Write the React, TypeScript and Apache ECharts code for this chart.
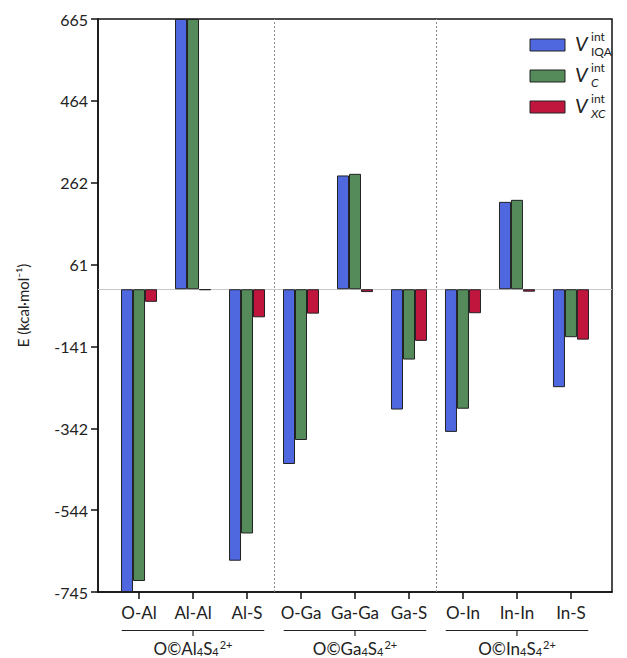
import React, { useEffect, useRef } from 'react';
import * as echarts from 'echarts';

const categories = ['O-Al', 'Al-Al', 'Al-S', 'O-Ga', 'Ga-Ga', 'Ga-S', 'O-In', 'In-In', 'In-S'];
const vIQA = [-745, 665, -668, -430, 280, -296, -351, 215, -241];
const vC = [-718, 665, -601, -371, 284, -173, -294, 220, -118];
const vXC = [-31, -2, -69, -60, -7, -127, -59, -6, -124];
const yTicks = [-745, -543.57, -342.14, -140.71, 60.71, 262.14, 463.57, 665];
const xTicks = [0, 1, 2, 3, 4, 5, 6, 7, 8];
const groupMetals = ['Al', 'Ga', 'In'];
const groupCenters = [1, 4, 7];
const separators = [2.5, 5.5];
const legendSubs = ['IQA', 'C', 'XC'];
const legendSubItalic = [false, true, true];
const colors = ['#4f68e0', '#558b5b', '#c0163e'];

const FONT = 'Lato, "Noto Sans", sans-serif';

export default function App() {
  const ref = useRef<HTMLDivElement>(null);
  useEffect(() => {
    document.body.style.margin = '0';
    if (!ref.current) return;
    const chart = echarts.init(ref.current, undefined, { renderer: 'svg' });
    const mkSeries = (name: string, vals: number[], color: string, extra: any = {}) => ({
      name,
      type: 'bar',
      data: vals.map((v, i) => [i, v]),
      barWidth: 12,
      barGap: '0%',
      itemStyle: { color, borderColor: '#222', borderWidth: 1 },
      ...extra,
    });
    const option: any = {
      animation: false,
      grid: { left: 98, right: 15, top: 19, bottom: 66, show: true, borderColor: '#111', borderWidth: 1.5, backgroundColor: 'transparent' },
      xAxis: {
        type: 'value',
        min: -0.76,
        max: 8.76,
        splitLine: { show: false },
        axisLine: { show: true, onZero: false, lineStyle: { color: '#111', width: 1.5 } },
        axisTick: { show: true, customValues: xTicks, length: 7, lineStyle: { color: '#111', width: 1.5 } },
        axisLabel: {
          customValues: xTicks,
          formatter: (v: number) => categories[Math.round(v)] ?? '',
          color: '#222',
          fontSize: 17,
          fontFamily: FONT,
          margin: 12,
        },
      },
      yAxis: {
        type: 'value',
        min: -745,
        max: 665,
        name: 'E (kcal·mol⁻¹)',
        nameLocation: 'middle',
        nameGap: 68,
        nameTextStyle: { color: '#222', fontSize: 15, fontFamily: FONT },
        splitLine: { show: false },
        axisLine: { show: true, onZero: false, lineStyle: { color: '#111', width: 1.5 } },
        axisTick: { show: true, customValues: yTicks, length: 7, lineStyle: { color: '#111', width: 1.5 } },
        axisLabel: {
          customValues: yTicks,
          formatter: (v: number) => String(Math.round(v)),
          color: '#222',
          fontSize: 16,
          fontFamily: FONT,
          margin: 10,
        },
      },
      series: [
        mkSeries('IQA', vIQA, colors[0]),
        mkSeries('C', vC, colors[1], {
          markLine: {
            silent: true,
            symbol: 'none',
            label: { show: false },
            z: 1,
            data: [
              { yAxis: 0, lineStyle: { color: '#c8c8c8', width: 1, type: 'solid' } },
              ...separators.map((s) => ({ xAxis: s, lineStyle: { color: '#888', width: 1, type: [2, 2] } })),
            ],
          },
        }),
        mkSeries('XC', vXC, colors[2]),
      ],
    };
    chart.setOption(option);

    const px = (v: number) => chart.convertToPixel({ xAxisIndex: 0 }, v) as number;
    const graphic: any[] = [];
    groupCenters.forEach((c, i) => {
      const x0 = px(c - 1.32);
      const x1 = px(c + 1.32);
      const xm = px(c);
      graphic.push({ type: 'line', shape: { x1: x0, y1: 630.5, x2: x1, y2: 630.5 }, style: { stroke: '#222', lineWidth: 1.2 } });
      graphic.push({ type: 'line', shape: { x1: xm, y1: 630.5, x2: xm, y2: 636 }, style: { stroke: '#222', lineWidth: 1.2 } });
      graphic.push({
        type: 'text',
        x: xm,
        y: 648,
        style: {
          text: `{n|O©${groupMetals[i]}}{s|4}{n|S}{s|4}{p|2+}`,
          align: 'center',
          verticalAlign: 'middle',
          rich: {
            n: { fontSize: 17, fontFamily: FONT, fill: '#222', color: '#222', lineHeight: 20, verticalAlign: 'middle' },
            s: { fontSize: 11, fontFamily: FONT, fill: '#222', color: '#222', lineHeight: 20, verticalAlign: 'bottom', padding: [0, 0, 1, 0] },
            p: { fontSize: 11, fontFamily: FONT, fill: '#222', color: '#222', lineHeight: 20, verticalAlign: 'top', padding: [1, 0, 0, 1] },
          },
        },
      });
    });
    legendSubs.forEach((sub, i) => {
      const top = 39 + 31 * i;
      graphic.push({ type: 'rect', shape: { x: 530, y: top, width: 35, height: 12 }, style: { fill: colors[i], stroke: '#222', lineWidth: 1 } });
      graphic.push({ type: 'text', x: 575, y: top - 6, style: { text: 'V', fill: '#222', font: `italic 20px ${FONT}`, align: 'left', verticalAlign: 'top', lineHeight: 20 } });
      graphic.push({
        type: 'text',
        x: 591,
        y: top - 9.5,
        style: {
          text: `{a|int}\n{b|${sub}}`,
          align: 'left',
          verticalAlign: 'top',
          rich: {
            a: { fontSize: 12, fontFamily: FONT, fill: '#222', color: '#222', lineHeight: 14.5 },
            b: { fontSize: 12, fontFamily: FONT, fontStyle: legendSubItalic[i] ? 'italic' : 'normal', fill: '#222', color: '#222', lineHeight: 14.5 },
          },
        },
      });
    });
    chart.setOption({ graphic });
    return () => chart.dispose();
  }, []);
  return <div ref={ref} style={{ width: 627, height: 658 }} />;
}
